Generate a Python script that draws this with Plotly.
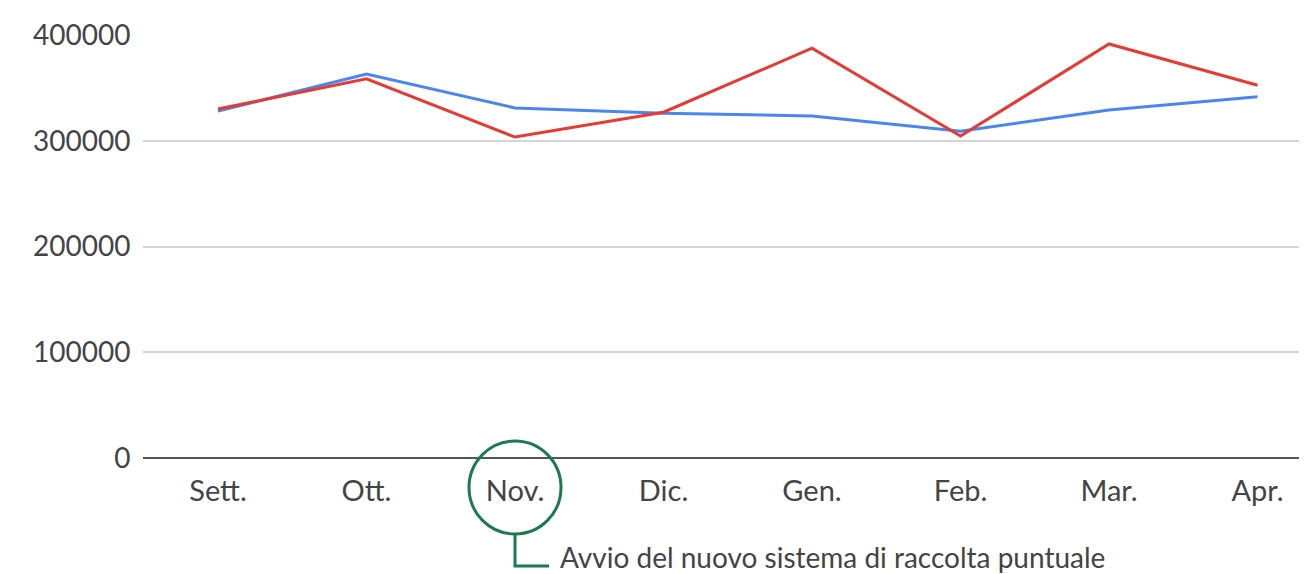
import plotly.graph_objects as go

months = ["Sett.", "Ott.", "Nov.", "Dic.", "Gen.", "Feb.", "Mar.", "Apr."]
blue_values = [328000, 363000, 331000, 326000, 323500, 309000, 329000, 341500]
red_values = [330000, 358500, 303500, 327000, 387500, 304500, 391500, 352500]
y_ticks = [0, 100000, 200000, 300000, 400000]
note_text = "Avvio del nuovo sistema di raccolta puntuale"

FONT = "Lato"
TXT = "#444444"
GREEN = "#1b7a50"

fig = go.Figure()
fig.add_trace(go.Scatter(x=list(range(len(months))), y=blue_values, mode="lines",
                         line=dict(color="#4a86f0", width=3), name="blue"))
fig.add_trace(go.Scatter(x=list(range(len(months))), y=red_values, mode="lines",
                         line=dict(color="#e63a32", width=3), name="red"))

fig.update_layout(
    width=1299, height=566,
    margin=dict(l=135, r=0, t=27, b=116),
    paper_bgcolor="white", plot_bgcolor="white",
    showlegend=False,
    font=dict(family=FONT, color=TXT),
    xaxis=dict(
        tickmode="array", tickvals=list(range(len(months))), ticktext=months,
        range=[-0.505, 7.333], showgrid=False, zeroline=False,
        showline=False, ticks="outside", ticklen=7, tickcolor="rgba(0,0,0,0)",
        tickfont=dict(size=29, color=TXT, family=FONT),
    ),
    yaxis=dict(
        range=[0, 400000], tickvals=y_ticks, ticktext=[str(v) for v in y_ticks],
        showgrid=True, gridcolor="#d4d4d4", gridwidth=2,
        zeroline=True, zerolinecolor="#555555", zerolinewidth=2,
        ticks="outside", ticklen=6, tickcolor="rgba(0,0,0,0)",
        tickfont=dict(size=28, color=TXT, family=FONT),
        showline=False,
    ),
)

# circle around "Nov."
fig.add_shape(type="circle", xref="x", yref="paper",
              x0=2 - 46/148.5, x1=2 + 46/148.5,
              y0=(458 - 534) / 423, y1=(458 - 441) / 423,
              line=dict(color=GREEN, width=3), fillcolor="rgba(0,0,0,0)")
# connector
fig.add_shape(type="path", xref="x", yref="paper",
              path=f"M 2 {(458-534)/423} L 2 {(458-566)/423} L {2 + 34/148.5} {(458-566)/423}",
              line=dict(color=GREEN, width=3))
fig.add_annotation(text=note_text, xref="x", yref="paper",
                   x=2 + 43/148.5, y=(458-557)/423, xanchor="left", yanchor="middle",
                   showarrow=False, font=dict(size=28, color=TXT, family=FONT))

fig.write_html("out.html")
